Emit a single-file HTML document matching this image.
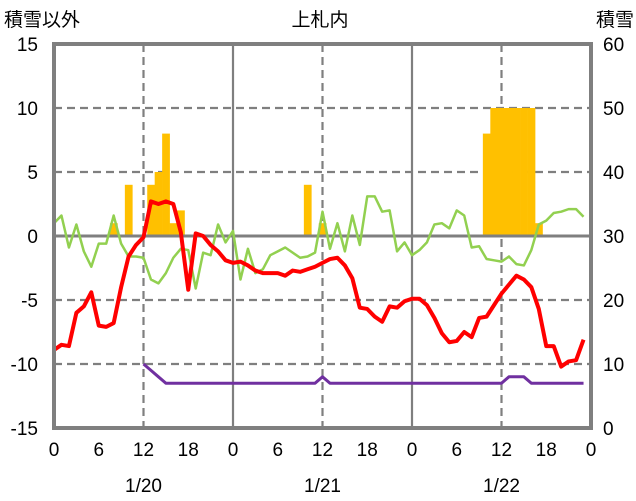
<!DOCTYPE html>
<html><head><meta charset="utf-8"><style>
body{margin:0;background:#fff;width:636px;height:501px;overflow:hidden}
svg{display:block;font-family:"Liberation Sans","Noto Sans CJK JP",sans-serif}
</style></head><body>
<svg id="chart" width="636" height="501" viewBox="0 0 636 501"></svg>
<script>
const hours = Array.from({length:72},(_, i)=>i);
const redValues = [-8.9,-8.5,-8.6,-6.0,-5.5,-4.4,-7.0,-7.1,-6.8,-4.0,-1.6,-0.7,-0.1,2.7,2.5,2.7,2.5,0.3,-4.2,0.2,0,-0.7,-1.2,-1.9,-2.1,-2.0,-2.3,-2.7,-2.9,-2.9,-2.9,-3.1,-2.7,-2.8,-2.6,-2.4,-2.1,-1.8,-1.7,-2.3,-3.3,-5.6,-5.7,-6.3,-6.7,-5.5,-5.6,-5.1,-4.9,-4.9,-5.4,-6.4,-7.6,-8.3,-8.2,-7.5,-7.9,-6.4,-6.3,-5.4,-4.5,-3.8,-3.1,-3.4,-4.0,-5.7,-8.6,-8.6,-10.2,-9.8,-9.7,-8.1];
const greenValues = [1.0,1.6,-0.9,0.9,-1.2,-2.4,-0.6,-0.6,1.6,-0.6,-1.6,-1.6,-1.7,-3.4,-3.7,-2.9,-1.7,-1.0,-1.1,-4.1,-1.3,-1.5,0.9,-0.5,0.4,-3.4,-1.0,-2.9,-2.6,-1.5,-1.2,-0.9,-1.3,-1.7,-1.6,-1.3,1.9,-1.0,1.0,-1.2,1.6,-0.7,3.1,3.1,1.9,2.0,-1.2,-0.5,-1.5,-1.1,-0.5,0.9,1.0,0.6,2.0,1.6,-0.9,-0.8,-1.8,-1.9,-2.0,-1.6,-2.2,-2.3,-1.1,0.9,1.2,1.8,1.9,2.1,2.1,1.5];
const barHours = [8,10,13,14,15,16,17,34,36,58,59,60,61,62,63,64,65];
const barValues = [1,4,4,5,8,1,2,4,1,8,10,10,10,10,10,10,1];
const purpleHours = Array.from({length:60},(_, i)=>i+12);
const purpleValues = [10,9,8,7,7,7,7,7,7,7,7,7,7,7,7,7,7,7,7,7,7,7,7,7,8,7,7,7,7,7,7,7,7,7,7,7,7,7,7,7,7,7,7,7,7,7,7,7,7,8,8,8,7,7,7,7,7,7,7,7];
const leftTicks = [15,10,5,0,-5,-10,-15];
const rightTicks = [60,50,40,30,20,10,0];
const xTickLabels = ["0","6","12","18","0","6","12","18","0","6","12","18","0"];
const dateLabels = ["1/20","1/21","1/22"];

const X0=54,X1=591,Y0=44,Y1=428;
const xs=h=>X0+(X1-X0)*h/72;
const yl=v=>Y0+(15-v)*(Y1-Y0)/30;
const yr=v=>Y0+(60-v)*(Y1-Y0)/60;
const svg=document.getElementById('chart');
const NS='http://www.w3.org/2000/svg';
function mk(tag,attrs,parent){const e=document.createElementNS(NS,tag);for(const k in attrs)e.setAttribute(k,attrs[k]);(parent||svg).appendChild(e);return e;}

leftTicks.forEach(v=>{ if(v===15||v===-15||v===0)return;
 const g=mk('line',{x1:X0,x2:X1,y1:yl(v),y2:yl(v),stroke:'#7f7f7f','stroke-width':2.2,'stroke-dasharray':'8,5'});
 
 
});
[12,36,60].forEach(h=>{const g=mk('line',{x1:xs(h),x2:xs(h),y1:Y0,y2:Y1,stroke:'#7f7f7f','stroke-width':2.2,'stroke-dasharray':'8,5'});
 
 });
[24,48].forEach(h=>{const g=mk('line',{x1:xs(h),x2:xs(h),y1:Y0,y2:Y1,stroke:'#7f7f7f','stroke-width':2.2});
 
 });

barHours.forEach((h,i)=>{const w=(X1-X0)/72;const y=yl(barValues[i]);
 const b=mk('rect',{x:xs(h)-w/2,y:y,width:w+0.3,height:yl(0)-y,fill:'#FFC000'});
 
 });

const z=mk('line',{x1:X0,x2:X1,y1:yl(0),y2:yl(0),stroke:'#7f7f7f','stroke-width':3});



function line(hs,vs,fy,color,w,name){
 const p=mk('polyline',{points:hs.map((h,i)=>xs(h)+','+fy(vs[i])).join(' '),fill:'none',stroke:color,'stroke-width':w,'stroke-linejoin':'round'});
 
 
}
line(hours,greenValues,yl,'#92D050',2.5,'green-series-line');
line(hours,redValues,yl,'#FF0000',4,'red-series-line');
line(purpleHours,purpleValues,yr,'#7030A0',3,'snow-depth-line');

const f=mk('rect',{x:X0,y:Y0,width:X1-X0,height:Y1-Y0,fill:'none',stroke:'#7f7f7f','stroke-width':4});



function txt(x,y,s,anchor,name){const t=mk('text',{x:x,y:y,'font-size':19,'text-anchor':anchor,fill:'#000'});t.textContent=s;
 
 }
leftTicks.forEach(v=>txt(38,yl(v)+7,String(v),'end','left-tick-label'));
rightTicks.forEach(v=>txt(603,yr(v)+7,String(v),'start','right-tick-label'));
xTickLabels.forEach((s,i)=>txt(xs(i*6),456,s,'middle','x-tick-label'));
dateLabels.forEach((s,i)=>txt(xs(12+24*i),492,s,'middle','date-label'));
txt(4,26,'積雪以外','start','left-axis-title');
txt(634,26,'積雪','end','right-axis-title');
txt(320,26,'上札内','middle','chart-title');
</script>
</body></html>
